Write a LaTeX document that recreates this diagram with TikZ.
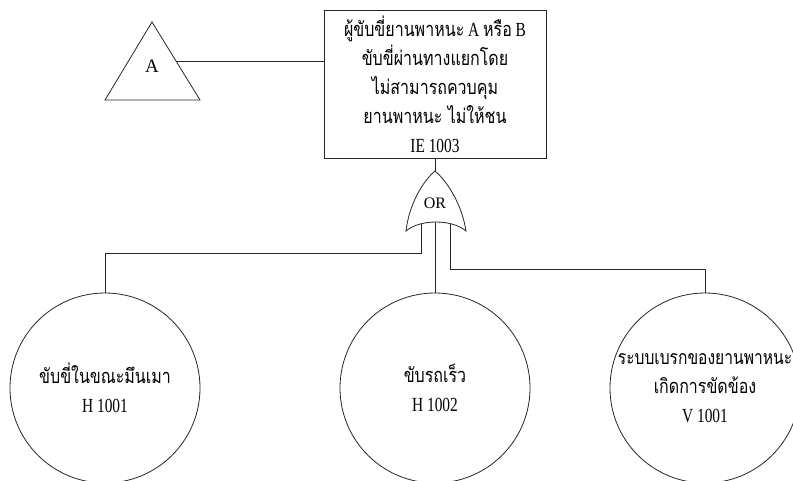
\documentclass[tikz,border=0pt]{standalone}
\usepackage{fontspec}
\setmainfont{Liberation Serif}
\newfontfamily\narrowserif[FakeStretch=0.77]{Liberation Serif}
\newfontfamily\thaifont[Script=Thai,FakeStretch=0.8]{Loma}
\newcommand\thx[1]{{\thaifont #1}}

\tikzset{
  lw/.style={line width=0.8pt, draw=black!85},
  eventbox/.style={lw, rectangle, minimum width=222pt, minimum height=148pt, inner sep=0pt,
    align=center, font=\fontsize{20}{29}\selectfont\narrowserif},
  basic/.style={lw, circle, minimum size=190pt, inner sep=0pt,
    align=center, font=\fontsize{20}{29}\selectfont\narrowserif},
  wire/.style={lw},
}

\begin{document}
\begin{tikzpicture}[x=1pt, y=-1pt]
\useasboundingbox (0,0) rectangle (793,480);
\clip (0,0) rectangle (793,480);

% top event
\node[eventbox] (top) at (435,84)
  {\thx{ผู้ขับขี่ยานพาหนะ} A \thx{หรือ} B\\
   \thx{ขับขี่ผ่านทางแยกโดย}\\
   \thx{ไม่สามารถควบคุม}\\
   \thx{ยานพาหนะ ไม่ให้ชน}\\
   IE 1003};

% transfer triangle
\coordinate (triTop) at (152,22);
\coordinate (triR) at (200,100);
\coordinate (triL) at (105,100);
\draw[lw] (triTop) -- (triR) -- (triL) -- cycle;
\node[font=\fontsize{19}{22}\selectfont] (triA) at (152,66) {A};
\coordinate (triOut) at (176,61);
\draw[wire] (triOut) -- (triOut -| top.west);

% basic events
\node[basic] (h1) at (105,388) {\thx{ขับขี่ในขณะมึนเมา}\\H 1001};
\node[basic] (h2) at (435,388) {\thx{ขับรถเร็ว}\\H 1002};
\node[basic] (v1) at (705,388)
  {{\fontsize{19.5}{28}\selectfont\thx{ระบบเบรกของยานพาหนะ}}\\\thx{เกิดการขัดข้อง}\\V 1001};

% OR gate inputs
\coordinate (gTop) at (435,171);
\coordinate (inL) at (421,215);
\coordinate (inC) at (435,215);
\coordinate (inR) at (450,215);
\draw[wire] (top.south) -- (gTop);
\draw[wire] (inL) -- ++(0,38) -| (h1.north);
\draw[wire] (inC) -- (h2.north);
\draw[wire] (inR) -- ++(0,54) -| (v1.north);

% OR gate
\draw[lw, fill=white] (gTop) .. controls (448,182) and (462,205) .. (466,231)
  .. controls (452,219) and (420,219) .. (406,231)
  .. controls (409,205) and (422,182) .. (gTop) -- cycle;
\node[font=\fontsize{16}{19}\selectfont] (orText) at (435,203) {OR};
\end{tikzpicture}
\end{document}
